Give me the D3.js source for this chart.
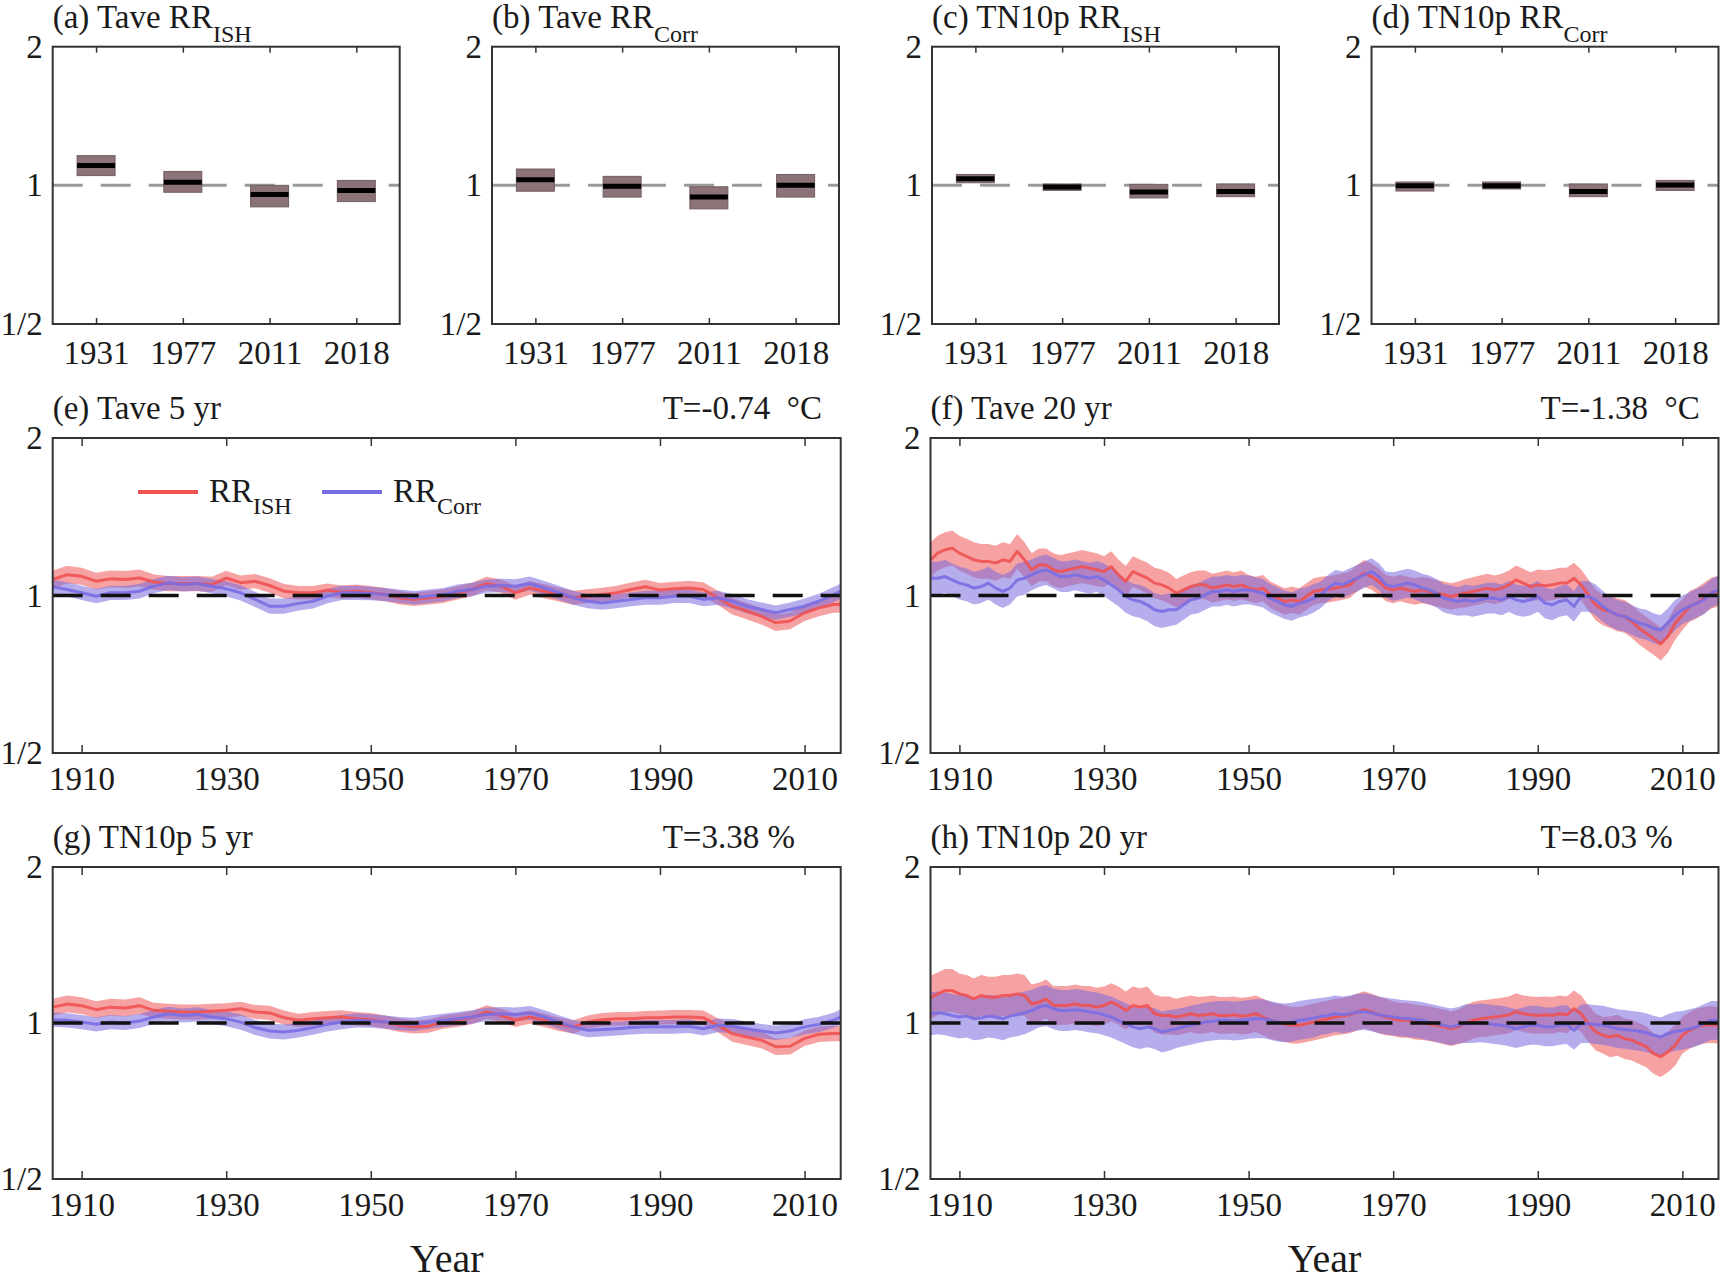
<!DOCTYPE html>
<html><head><meta charset="utf-8">
<script src="https://cdn.jsdelivr.net/npm/d3@7/dist/d3.min.js"></script>
<style>
body{margin:0;background:#fff;}
svg text{font-family:"Liberation Serif","Times New Roman",serif;fill:#1a1a1a;}
</style></head>
<body><svg id="c" width="1725" height="1282"></svg>
<script>
// ---------------- DATA ----------------
const boxCategories = ["1931","1977","2011","2018"];
// (a) Tave RR_ISH
const aLow  = [1.050, 0.966, 0.898, 0.922];
const aMed  = [1.105, 1.015, 0.955, 0.974];
const aHigh = [1.160, 1.072, 1.000, 1.025];
// (b) Tave RR_Corr
const bLow  = [0.971, 0.943, 0.889, 0.943];
const bMed  = [1.029, 0.995, 0.943, 1.000];
const bHigh = [1.085, 1.046, 0.993, 1.056];
// (c) TN10p RR_ISH
const cLow  = [1.013, 0.975, 0.939, 0.945];
const cMed  = [1.034, 0.992, 0.967, 0.970];
const cHigh = [1.056, 1.007, 1.005, 1.007];
// (d) TN10p RR_Corr
const dLow  = [0.972, 0.982, 0.945, 0.975];
const dMed  = [0.998, 0.998, 0.970, 1.002];
const dHigh = [1.017, 1.017, 1.007, 1.025];

const yearTicks = [1910, 1930, 1950, 1970, 1990, 2010];
const rrTicks = [0.5, 1, 2];
const rrTickLabels = ["1/2", "1", "2"];

// 5-yr panels (sampled every 2 years)
const years5 = [1906,1908,1910,1912,1914,1916,1918,
  1920,1922,1924,1926,1928,1930,1932,1934,1936,1938,
  1940,1942,1944,1946,1948,1950,1952,1954,1956,1958,
  1960,1962,1964,1966,1968,1970,1972,1974,1976,1978,
  1980,1982,1984,1986,1988,1990,1992,1994,1996,1998,
  2000,2002,2004,2006,2008,2010,2012,2014,2015];

const eRed = [1.073,1.096,1.088,1.065,1.076,1.073,1.080,
  1.061,1.054,1.054,1.054,1.050,1.080,1.058,1.065,1.045,1.019,
  1.012,1.012,1.024,1.015,1.019,1.012,1.004,0.990,0.983,0.990,
  0.997,1.012,1.027,1.054,1.042,1.012,1.034,1.019,1.004,0.990,
  0.997,1.004,1.012,1.027,1.039,1.024,1.030,1.034,1.027,0.990,
  0.954,0.934,0.913,0.887,0.894,0.927,0.947,0.961,0.961];
const eBlue = [1.039,1.027,1.012,0.997,1.012,1.012,1.019,
  1.042,1.057,1.050,1.054,1.042,1.030,1.012,0.983,0.954,0.954,
  0.966,0.975,0.997,1.012,1.012,1.009,1.004,0.997,0.990,0.997,
  1.004,1.019,1.027,1.042,1.045,1.042,1.054,1.034,1.012,0.990,
  0.975,0.968,0.975,0.983,0.990,0.990,0.997,0.997,0.983,0.990,
  0.975,0.954,0.940,0.927,0.940,0.954,0.975,1.004,1.019];

const gRed = [1.073,1.088,1.080,1.061,1.073,1.069,1.080,
  1.058,1.054,1.050,1.050,1.054,1.058,1.065,1.050,1.046,1.024,
  1.012,1.019,1.024,1.027,1.019,1.015,1.004,0.990,0.983,0.986,
  1.004,1.012,1.024,1.050,1.034,1.012,1.027,1.012,0.994,0.983,
  1.004,1.015,1.019,1.019,1.024,1.024,1.027,1.027,1.024,0.990,
  0.954,0.940,0.927,0.900,0.902,0.934,0.951,0.954,0.954];
const gBlue = [1.015,1.012,1.004,0.994,1.004,1.000,1.009,
  1.027,1.042,1.034,1.039,1.027,1.019,1.004,0.980,0.965,0.961,
  0.968,0.980,0.994,1.004,1.012,1.009,1.004,0.997,0.994,1.004,
  1.012,1.019,1.027,1.039,1.042,1.039,1.046,1.027,1.004,0.983,
  0.968,0.971,0.975,0.980,0.983,0.983,0.983,0.986,0.975,0.990,
  0.986,0.975,0.965,0.957,0.965,0.983,0.994,1.012,1.027];

// 20-yr panels (yearly, 1906-2015)
const years20 = [1906,1907,1908,1909,
  1910,1911,1912,1913,1914,1915,1916,1917,1918,1919,
  1920,1921,1922,1923,1924,1925,1926,1927,1928,1929,
  1930,1931,1932,1933,1934,1935,1936,1937,1938,1939,
  1940,1941,1942,1943,1944,1945,1946,1947,1948,1949,
  1950,1951,1952,1953,1954,1955,1956,1957,1958,1959,
  1960,1961,1962,1963,1964,1965,1966,1967,1968,1969,
  1970,1971,1972,1973,1974,1975,1976,1977,1978,1979,
  1980,1981,1982,1983,1984,1985,1986,1987,1988,1989,
  1990,1991,1992,1993,1994,1995,1996,1997,1998,1999,
  2000,2001,2002,2003,2004,2005,2006,2007,2008,2009,
  2010,2011,2012,2013,2014,2015];

const fRed = [1.170,1.205,1.223,1.232,
  1.205,1.188,1.170,1.162,1.162,1.153,1.170,1.162,1.214,1.170,
  1.120,1.144,1.144,1.120,1.111,1.120,1.128,1.136,1.128,1.120,
  1.111,1.136,1.095,1.064,1.111,1.095,1.079,1.056,1.048,1.033,
  1.010,1.025,1.040,1.048,1.048,1.033,1.040,1.048,1.040,1.048,
  1.033,1.025,1.033,1.003,0.988,0.974,0.981,0.974,0.996,1.018,
  1.025,1.028,1.033,1.040,1.048,1.079,1.103,1.087,1.064,1.033,
  1.025,1.033,1.025,1.018,1.025,1.018,1.010,1.003,0.996,1.003,
  1.010,1.018,1.025,1.033,1.025,1.033,1.048,1.071,1.056,1.040,
  1.048,1.044,1.048,1.056,1.056,1.079,1.048,1.003,0.960,0.939,
  0.932,0.918,0.912,0.892,0.866,0.847,0.828,0.808,0.835,0.885,
  0.918,0.953,0.967,0.988,1.010,1.018];
const fBlue = [1.079,1.079,1.087,1.071,
  1.056,1.048,1.033,1.040,1.056,1.033,1.018,1.033,1.071,1.079,
  1.095,1.111,1.120,1.103,1.087,1.087,1.095,1.087,1.079,1.087,
  1.071,1.048,1.025,0.996,0.981,0.974,0.960,0.939,0.932,0.939,
  0.939,0.960,0.981,0.988,1.003,1.018,1.018,1.025,1.018,1.025,
  1.025,1.018,1.010,0.988,0.974,0.960,0.953,0.967,0.974,0.988,
  1.003,1.033,1.056,1.048,1.064,1.079,1.095,1.111,1.087,1.048,
  1.040,1.048,1.056,1.048,1.033,1.025,1.010,0.988,0.981,0.974,
  0.981,0.974,0.981,0.988,0.988,0.981,0.996,0.981,0.974,0.981,
  0.996,0.967,0.960,0.974,0.981,0.953,0.996,0.996,0.981,0.953,
  0.932,0.918,0.912,0.898,0.885,0.879,0.866,0.859,0.885,0.918,
  0.939,0.953,0.967,0.981,1.010,1.025];

const hRed = [1.121,1.138,1.155,1.155,
  1.138,1.130,1.113,1.130,1.121,1.121,1.130,1.130,1.138,1.130,
  1.089,1.097,1.113,1.081,1.081,1.081,1.089,1.081,1.081,1.073,
  1.081,1.097,1.081,1.057,1.081,1.073,1.081,1.042,1.034,1.034,
  1.027,1.034,1.042,1.034,1.037,1.042,1.034,1.034,1.037,1.031,
  1.034,1.042,1.027,1.012,1.004,0.997,0.990,0.990,0.997,1.004,
  1.012,1.019,1.027,1.031,1.037,1.050,1.061,1.050,1.037,1.027,
  1.019,1.012,1.012,1.004,1.001,0.997,0.990,0.983,0.975,0.983,
  0.997,1.012,1.019,1.022,1.027,1.031,1.037,1.052,1.042,1.037,
  1.034,1.037,1.034,1.042,1.037,1.065,1.042,0.997,0.961,0.947,
  0.940,0.947,0.933,0.927,0.913,0.900,0.874,0.861,0.880,0.906,
  0.947,0.968,0.983,0.990,0.993,0.990];
const hBlue = [1.042,1.046,1.042,1.034,
  1.027,1.031,1.019,1.022,1.031,1.027,1.019,1.031,1.037,1.046,
  1.057,1.073,1.081,1.065,1.057,1.057,1.061,1.057,1.050,1.046,
  1.037,1.027,1.012,0.997,0.983,0.975,0.983,0.975,0.961,0.968,
  0.975,0.983,0.990,0.997,1.004,1.008,1.012,1.012,1.008,1.012,
  1.016,1.019,1.019,1.012,1.004,1.001,1.004,1.012,1.016,1.022,
  1.030,1.034,1.042,1.037,1.042,1.050,1.052,1.046,1.037,1.031,
  1.027,1.022,1.019,1.016,1.012,1.004,0.997,0.990,0.983,0.990,
  0.997,0.997,1.001,0.997,0.993,0.990,0.983,0.975,0.983,0.990,
  0.990,0.983,0.983,0.990,0.993,0.968,0.997,0.997,0.993,0.990,
  0.983,0.975,0.972,0.968,0.964,0.958,0.947,0.940,0.954,0.964,
  0.968,0.975,0.983,0.997,1.012,1.012];

// uncertainty band (multiplicative half-width) per decade: 1900s ... 2010s
const eRedBand  = [1.040,1.038,1.034,1.032,1.030,1.030,1.030,1.031,1.031,1.032,1.037,1.037];
const eBlueBand = [1.032,1.032,1.032,1.034,1.032,1.030,1.030,1.031,1.031,1.031,1.032,1.034];
const gRedBand  = [1.038,1.038,1.034,1.032,1.030,1.030,1.030,1.030,1.030,1.032,1.037,1.035];
const gBlueBand = [1.032,1.032,1.032,1.034,1.032,1.030,1.030,1.031,1.031,1.031,1.032,1.034];
const fRedBand  = [1.080,1.080,1.075,1.070,1.065,1.060,1.060,1.060,1.065,1.070,1.075,1.070];
const fBlueBand = [1.075,1.075,1.070,1.075,1.068,1.065,1.060,1.065,1.070,1.070,1.068,1.065];
const hRedBand  = [1.100,1.095,1.090,1.088,1.085,1.085,1.085,1.080,1.085,1.085,1.095,1.085];
const hBlueBand = [1.100,1.100,1.095,1.095,1.090,1.090,1.085,1.085,1.090,1.090,1.090,1.090];

// ---------------- DRAWING ----------------
const svg = d3.select("#c");
const FS = 33;
const C_RED = "#f05252", C_RED_BAND = "rgb(240,100,100)";
const C_BLUE = "#7a6ee4", C_BLUE_BAND = "rgb(120,105,220)";

function styleAxis(ax, showText) {
  ax.select(".domain").remove();
  ax.selectAll(".tick line").attr("stroke", "#333").attr("stroke-width", 1.5);
  if (showText) ax.selectAll(".tick text").attr("font-size", FS).attr("fill", "#1a1a1a");
  else ax.selectAll(".tick text").remove();
}

function title(g, x, y, main, sub) {
  const t = g.append("text").attr("x", x).attr("y", y).attr("font-size", FS);
  t.append("tspan").text(main);
  if (sub) t.append("tspan").attr("dy", 14).attr("font-size", 24).text(sub);
}

function yAxis(g, y, left) {
  const ax = g.append("g").attr("transform", `translate(${left},0)`)
    .call(d3.axisLeft(y).tickValues(rrTicks)
      .tickFormat(d => rrTickLabels[rrTicks.indexOf(d)])
      .tickSize(0).tickPadding(10));
  styleAxis(ax, true);
}

function frame(g, l, t, w, h) {
  g.append("rect").attr("x", l).attr("y", t).attr("width", w).attr("height", h)
    .attr("fill", "none").attr("stroke", "#333").attr("stroke-width", 2);
}

// --- top row box panels
const topPanels = [
  {main: "(a) Tave RR", sub: "ISH", lo: aLow, med: aMed, hi: aHigh},
  {main: "(b) Tave RR", sub: "Corr", lo: bLow, med: bMed, hi: bHigh},
  {main: "(c) TN10p RR", sub: "ISH", lo: cLow, med: cMed, hi: cHigh},
  {main: "(d) TN10p RR", sub: "Corr", lo: dLow, med: dMed, hi: dHigh}
];
const topLefts = [52.7, 492, 932, 1371.5];
const topW = 347, topT = 46.7, topB = 324;

topPanels.forEach((p, k) => {
  const L = topLefts[k], R = L + topW;
  const g = svg.append("g");
  const x = d3.scalePoint().domain(boxCategories).range([L, R]).padding(0.5);
  const y = d3.scaleLog().base(2).domain([0.5, 2]).range([topB, topT]);
  g.append("line").attr("x1", L).attr("x2", R).attr("y1", y(1)).attr("y2", y(1))
    .attr("stroke", "#9a9a9a").attr("stroke-width", 3).attr("stroke-dasharray", "30,18");
  const bw = 38;
  boxCategories.forEach((c, i) => {
    g.append("rect").attr("x", x(c) - bw / 2).attr("width", bw)
      .attr("y", y(p.hi[i])).attr("height", y(p.lo[i]) - y(p.hi[i]))
      .attr("fill", "#8b7377").attr("stroke", "#735f62").attr("stroke-width", 1);
    g.append("line").attr("x1", x(c) - bw / 2).attr("x2", x(c) + bw / 2)
      .attr("y1", y(p.med[i])).attr("y2", y(p.med[i]))
      .attr("stroke", "#000").attr("stroke-width", 5);
  });
  const axb = g.append("g").attr("transform", `translate(0,${topB})`)
    .call(d3.axisBottom(x).tickSizeInner(-6).tickSizeOuter(0).tickPadding(17));
  styleAxis(axb, true);
  const axt = g.append("g").attr("transform", `translate(0,${topT})`)
    .call(d3.axisTop(x).tickSizeInner(-6).tickSizeOuter(0));
  styleAxis(axt, false);
  yAxis(g, y, L);
  frame(g, L, topT, topW, topB - topT);
  title(g, L, topT - 19, p.main, p.sub);
});

// --- time series panels
const timePanels = [
  {main: "(e) Tave 5 yr", T: "T=-0.74  \u00B0C", yrs: years5, red: eRed, blue: eBlue, rb: eRedBand, bb: eBlueBand, col: 0, row: 0, legend: true},
  {main: "(f) Tave 20 yr", T: "T=-1.38  \u00B0C", yrs: years20, red: fRed, blue: fBlue, rb: fRedBand, bb: fBlueBand, col: 1, row: 0},
  {main: "(g) TN10p 5 yr", T: "T=3.38 %", yrs: years5, red: gRed, blue: gBlue, rb: gRedBand, bb: gBlueBand, col: 0, row: 1},
  {main: "(h) TN10p 20 yr", T: "T=8.03 %", yrs: years20, red: hRed, blue: hBlue, rb: hRedBand, bb: hBlueBand, col: 1, row: 1}
];
const tLefts = [52.7, 930.5], tW = 788;
const tRows = [[438, 753], [867, 1179]];

timePanels.forEach(p => {
  const L = tLefts[p.col], R = L + tW;
  const T = tRows[p.row][0], B = tRows[p.row][1];
  const g = svg.append("g");
  const x = d3.scaleLinear().domain([1906, 2015]).range([L, R]);
  const y = d3.scaleLog().base(2).domain([0.5, 2]).range([B, T]);
  const mk = (vals, band) => p.yrs.map((yr, i) => ({yr, v: vals[i], b: band[Math.floor((yr - 1900) / 10)]}));
  const red = mk(p.red, p.rb), blue = mk(p.blue, p.bb);
  const area = d3.area().x(d => x(d.yr)).y0(d => y(d.v / d.b)).y1(d => y(d.v * d.b));
  const line = d3.line().x(d => x(d.yr)).y(d => y(d.v));
  g.append("path").datum(red).attr("d", area).attr("fill", C_RED_BAND).attr("fill-opacity", 0.6);
  g.append("path").datum(blue).attr("d", area).attr("fill", C_BLUE_BAND).attr("fill-opacity", 0.55);
  g.append("path").datum(red).attr("d", line).attr("fill", "none").attr("stroke", C_RED)
    .attr("stroke-width", 3).attr("stroke-opacity", 0.9).attr("stroke-linejoin", "round");
  g.append("path").datum(blue).attr("d", line).attr("fill", "none").attr("stroke", C_BLUE)
    .attr("stroke-width", 3).attr("stroke-opacity", 0.9).attr("stroke-linejoin", "round");
  g.append("line").attr("x1", L).attr("x2", R).attr("y1", y(1)).attr("y2", y(1))
    .attr("stroke", "#111").attr("stroke-width", 3.5).attr("stroke-dasharray", "30,18");

  const axb = g.append("g").attr("transform", `translate(0,${B})`)
    .call(d3.axisBottom(x).tickValues(yearTicks).tickFormat(d3.format("d"))
      .tickSizeInner(-8).tickSizeOuter(0).tickPadding(14));
  styleAxis(axb, true);
  const axt = g.append("g").attr("transform", `translate(0,${T})`)
    .call(d3.axisTop(x).tickValues(yearTicks).tickSizeInner(-8).tickSizeOuter(0));
  styleAxis(axt, false);
  yAxis(g, y, L);
  frame(g, L, T, tW, B - T);
  title(g, L, T - 19, p.main, null);
  g.append("text").attr("x", L + 610).attr("y", T - 19).attr("font-size", FS)
    .style("white-space", "pre").text(p.T);

  if (p.legend) {
    const ly = 492;
    g.append("line").attr("x1", 138).attr("x2", 198).attr("y1", ly).attr("y2", ly)
      .attr("stroke", C_RED).attr("stroke-width", 4);
    const t1 = g.append("text").attr("x", 209).attr("y", ly + 10).attr("font-size", FS);
    t1.append("tspan").text("RR");
    t1.append("tspan").attr("dy", 12).attr("font-size", 24).text("ISH");
    g.append("line").attr("x1", 322).attr("x2", 382).attr("y1", ly).attr("y2", ly)
      .attr("stroke", C_BLUE).attr("stroke-width", 4);
    const t2 = g.append("text").attr("x", 393).attr("y", ly + 10).attr("font-size", FS);
    t2.append("tspan").text("RR");
    t2.append("tspan").attr("dy", 12).attr("font-size", 24).text("Corr");
  }
  if (p.row === 1) {
    g.append("text").attr("x", (L + R) / 2).attr("y", 1272).attr("text-anchor", "middle")
      .attr("font-size", 40).text("Year");
  }
});
</script>
</body></html>
